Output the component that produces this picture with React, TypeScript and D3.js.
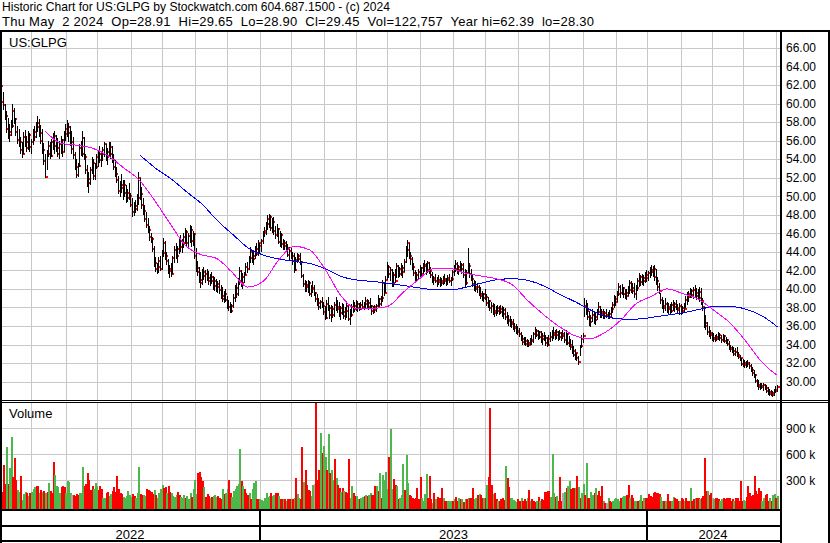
import React from 'react';
import * as d3 from 'd3';

// daily bars, May 2022 .. May 2 2024 (503 trading days)
const highs = [
  62.4,62.2,62.3,61.8,61.2,60.0,59.2,58.4,57.8,58.2, 60.0,59.5,58.4,57.6,57.2,56.4,55.8,56.9,57.1,56.5,
  57.0,56.8,56.2,57.2,57.6,58.0,58.6,58.3,57.7,57.2, 55.7,54.6,55.0,56.0,55.8,56.2,56.8,57.0,56.6,56.3,
  56.0,56.5,56.2,57.0,57.8,58.2,57.9,57.6,57.0,56.4, 54.8,54.0,53.6,55.6,56.0,57.0,56.4,54.5,53.4,52.6,
  53.2,54.2,54.0,53.6,54.6,55.0,55.4,54.8,55.3,55.9, 55.6,55.2,55.8,55.9,55.4,54.6,53.9,53.2,52.2,51.6,
  52.4,51.8,51.7,51.2,50.8,51.4,50.4,49.8,49.4,49.6, 50.2,52.6,52.0,51.0,49.8,49.0,48.3,47.6,46.8,46.0,
  45.6,44.6,43.4,42.8,43.4,43.6,44.2,45.5,45.2,44.0, 43.2,42.6,42.8,43.6,44.6,45.0,44.6,45.6,45.8,45.4,
  46.0,46.6,46.4,46.0,46.9,46.8,46.2,46.0,44.4,43.0, 42.4,41.8,42.2,42.4,42.0,42.2,41.9,41.6,41.8,41.4,
  41.3,41.1,40.8,41.0,40.4,40.2,39.8,40.0,39.2,38.8, 38.6,38.4,39.4,40.4,40.6,41.2,42.4,42.0,41.7,41.8,
  42.8,42.9,43.6,44.5,44.2,44.0,44.6,45.0,45.3,45.0, 45.4,46.2,46.7,47.2,48.0,48.1,48.0,47.6,47.8,46.8,
  47.0,46.6,46.2,46.0,45.4,45.3,45.2,44.8,44.5,44.4, 44.0,43.9,43.4,43.9,43.8,43.9,43.0,41.6,41.0,40.8,
  41.0,40.8,40.4,40.9,40.4,39.7,39.4,39.0,38.8,39.1, 38.6,38.2,38.8,39.1,38.3,38.3,38.2,38.6,39.1,38.8,
  38.6,38.2,38.5,38.4,38.0,38.5,38.2,37.8,38.4,38.8, 38.6,38.8,38.7,38.5,38.6,38.8,38.6,39.1,38.9,38.8,
  39.0,38.3,38.2,38.3,38.4,39.3,39.0,39.2,41.0,40.6, 41.4,42.9,42.6,42.4,42.2,41.8,42.2,42.8,42.6,42.4,
  42.8,42.6,43.2,44.6,45.3,45.0,44.0,43.4,42.8,42.0, 41.8,42.2,42.6,42.4,42.8,43.1,42.8,43.0,42.9,42.4,
  41.8,41.4,41.6,41.3,41.5,41.3,41.2,41.4,41.6,41.2, 41.5,41.6,41.3,42.0,42.6,43.1,42.9,42.6,43.0,42.8,
  42.8,42.2,42.0,44.4,42.8,42.2,41.5,41.0,40.8,40.6, 40.4,40.2,39.8,39.6,40.0,39.4,39.1,38.8,38.6,38.5,
  38.4,38.2,38.3,38.2,38.3,38.2,38.0,37.9,37.5,37.2, 37.1,36.8,36.7,36.3,36.2,36.0,35.8,35.4,35.0,34.8,
  34.8,34.6,34.5,34.7,35.0,35.4,35.9,35.7,35.6,35.5, 35.5,35.2,35.4,35.0,34.8,35.0,35.3,35.6,35.9,35.6,
  35.7,35.5,35.6,35.4,35.6,35.4,35.6,35.2,34.9,34.6, 34.5,33.8,33.5,33.1,32.8,34.0,35.0,35.2,39.0,38.8,
  38.5,37.6,37.2,37.8,37.6,37.4,37.8,38.6,38.2,37.8, 37.8,37.6,37.8,37.5,37.7,38.0,38.6,39.3,39.2,39.8,
  40.6,40.4,40.5,40.2,40.0,40.0,40.3,41.0,40.8,40.6, 40.6,40.4,41.2,41.7,41.5,41.6,41.5,41.8,42.0,41.9,
  42.4,42.6,42.5,42.6,42.2,41.3,40.6,39.6,39.1,38.8, 39.0,38.6,38.5,38.4,38.6,38.8,38.6,38.8,38.4,38.5,
  38.4,38.2,38.5,39.2,39.7,39.8,40.1,40.0,40.2,40.4, 40.1,40.0,40.2,40.1,39.0,38.0,37.2,36.4,36.0,35.6,
  35.4,35.2,35.0,35.1,35.4,35.2,35.0,35.1,35.0,34.8, 34.6,34.4,34.0,33.8,33.7,33.6,33.7,33.2,32.9,32.5,
  32.4,32.3,32.2,32.3,32.1,31.9,31.6,31.2,30.8,30.3, 30.2,29.8,29.9,29.8,29.7,29.6,29.4,29.2,29.1,29.0,
  29.2,29.5,29.65,
];

const lows = [
  61.2,60.8,61.0,59.6,59.3,58.2,56.8,56.2,55.8,56.5, 57.4,57.8,56.5,55.6,55.3,54.6,54.1,54.5,55.3,54.8,
  55.0,54.8,54.6,55.5,56.0,56.3,56.9,56.4,55.6,54.6, 53.4,52.0,52.8,54.2,54.0,54.2,55.0,54.6,54.8,54.2,
  54.0,54.6,54.2,54.8,56.0,56.4,55.8,55.4,54.6,54.0, 52.8,52.0,52.1,53.2,54.3,54.2,53.9,52.4,51.0,50.3,
  51.2,52.4,51.8,51.7,52.9,53.2,53.6,53.2,53.8,54.2, 53.8,53.4,54.2,54.0,53.6,52.8,52.1,51.4,50.2,49.9,
  50.4,49.6,49.9,49.3,49.4,49.6,48.8,47.8,47.9,48.2, 48.4,49.0,49.6,48.6,48.0,47.2,46.6,46.0,45.2,45.0,
  44.0,42.4,41.8,41.6,41.7,41.9,42.0,43.4,43.1,42.6, 41.6,41.2,41.3,41.6,42.8,43.2,42.8,43.8,44.0,43.9,
  44.4,44.8,44.6,44.4,45.0,44.5,44.6,43.2,41.8,41.4, 40.6,40.1,40.4,41.0,40.6,40.8,40.4,40.3,40.5,39.9,
  39.8,39.7,39.6,39.5,38.9,38.6,38.5,38.6,37.8,37.6, 37.4,37.4,37.9,38.6,39.0,39.2,40.4,40.2,40.0,40.6,
  41.5,41.7,42.0,42.8,42.8,42.6,43.2,43.5,43.6,43.8, 44.0,44.8,45.6,45.8,46.4,46.6,46.2,46.0,45.8,45.4,
  45.6,44.8,44.5,44.4,44.2,44.2,44.0,43.4,43.1,43.2, 42.6,41.7,41.9,42.8,42.9,42.6,41.2,40.2,39.7,39.7,
  39.6,39.2,39.1,39.6,39.2,38.6,38.2,37.7,37.8,37.9, 37.2,36.6,36.8,37.6,36.8,36.4,36.9,37.0,37.6,37.4,
  37.0,36.6,37.2,36.8,36.6,36.9,36.5,36.1,37.0,37.4, 37.5,37.6,37.5,37.6,37.7,37.8,37.7,37.9,37.8,37.7,
  37.9,37.2,37.3,37.4,37.5,38.0,38.0,38.2,38.6,39.2, 39.6,41.0,41.2,40.8,40.2,40.2,40.6,41.2,41.2,41.3,
  41.4,41.2,41.8,42.8,43.4,43.2,42.6,42.0,41.4,40.7, 40.8,41.0,41.2,41.3,41.5,41.8,41.5,41.7,41.6,41.2,
  40.6,40.4,40.6,40.2,40.4,40.2,40.3,40.4,40.5,40.3, 40.4,40.6,40.3,40.9,41.4,41.8,41.6,41.5,41.8,41.6,
  41.2,40.2,40.4,41.6,41.2,40.8,40.2,39.8,39.7,39.6, 39.2,38.9,38.7,38.6,38.8,38.2,37.9,37.6,37.4,37.2,
  37.0,37.1,37.3,37.2,37.3,37.0,36.8,36.6,36.2,36.0, 35.9,35.8,35.6,35.3,35.1,35.0,34.8,34.4,34.0,33.9,
  33.8,33.7,33.7,33.9,34.0,34.2,34.6,34.8,34.5,34.6, 34.2,34.0,34.4,33.8,33.7,33.8,34.3,34.4,34.6,34.5,
  34.6,34.4,34.5,34.4,34.6,34.2,34.0,33.9,33.7,33.4, 33.0,32.6,32.3,32.2,31.8,32.8,33.6,34.2,37.0,37.2,
  36.6,36.0,35.9,36.4,36.2,36.1,36.6,37.2,36.9,36.9, 36.8,36.7,36.9,36.7,36.8,37.0,37.4,37.9,38.2,38.6,
  39.2,39.0,39.3,39.0,38.9,38.8,39.2,39.5,39.6,39.4, 39.0,38.8,39.8,40.2,40.3,40.4,40.3,40.6,40.7,40.8,
  41.2,41.4,41.3,40.9,40.4,39.8,39.5,38.4,37.8,37.4, 37.6,37.4,37.2,37.3,37.4,37.6,37.5,37.7,37.3,37.2,
  37.2,37.3,37.4,37.9,38.3,38.6,39.0,39.0,38.9,39.1, 38.8,38.9,38.6,38.3,37.6,35.8,35.6,35.0,34.8,34.6,
  34.4,34.3,34.3,34.4,34.5,34.4,34.2,34.3,34.2,34.1, 33.8,33.4,33.2,33.1,32.8,32.8,32.6,32.4,32.2,31.7,
  31.6,31.5,31.5,31.6,31.4,31.0,30.6,30.4,29.8,29.4, 29.1,29.1,29.2,29.0,29.1,28.8,28.6,28.5,28.4,28.3,
  28.4,28.8,28.90,
];

const closes = [
  61.6,61.3,61.9,60.2,59.8,58.6,57.3,56.6,56.9,57.6, 59.2,58.3,56.9,56.1,55.9,55.0,54.6,56.4,55.8,55.2,
  56.6,55.3,55.8,56.9,56.4,57.5,57.9,56.8,56.0,55.0, 53.8,52.1,54.6,55.4,54.3,55.8,55.4,56.5,55.2,54.6,
  55.6,56.1,54.8,56.7,57.2,56.8,57.5,55.9,55.1,54.4, 53.2,52.3,53.3,55.2,54.6,56.3,54.2,52.8,51.4,51.9,
  52.8,53.6,52.2,53.2,54.2,54.5,53.9,54.6,55.0,55.6, 54.2,54.8,55.3,54.5,53.9,53.1,52.4,51.8,50.6,51.2,
  50.9,51.2,50.3,49.8,50.4,50.0,49.1,48.3,48.9,48.6, 49.8,52.0,50.2,49.0,48.4,47.5,46.9,46.4,45.6,45.4,
  44.3,42.8,42.2,42.4,43.0,42.2,43.9,45.0,43.6,43.0, 41.9,42.1,41.6,43.3,44.2,43.6,44.3,45.2,44.5,45.0,
  45.6,46.1,45.0,45.7,46.4,45.2,45.9,43.6,42.3,41.8, 41.0,40.6,41.8,41.4,41.6,41.2,40.9,41.3,40.8,40.3,
  40.9,40.2,40.5,39.9,39.2,38.9,39.4,38.8,38.1,38.0, 37.6,38.2,39.0,40.1,39.4,40.8,41.9,40.6,41.3,41.5,
  42.4,42.2,43.3,44.0,43.2,43.6,44.3,43.8,45.0,44.6, 45.2,46.0,46.3,47.0,47.5,47.8,46.6,47.2,46.2,45.8,
  46.5,45.1,45.8,44.8,44.6,44.9,44.4,43.7,44.1,43.5, 43.0,42.0,43.1,43.5,43.2,42.9,41.4,40.5,40.2,40.4,
  40.6,39.5,40.1,40.0,39.6,38.9,38.5,38.0,38.6,38.2, 37.5,36.9,38.4,37.9,37.2,37.8,37.2,38.3,38.0,37.8,
  37.4,37.9,37.5,37.1,37.6,38.2,36.8,37.2,38.0,37.8, 38.2,37.9,38.4,37.8,38.3,38.1,38.4,38.7,38.0,38.5,
  38.2,37.6,38.0,37.7,38.2,38.9,38.4,39.0,40.6,39.6, 41.0,42.4,41.6,42.0,40.6,41.5,40.9,42.5,41.6,42.1,
  42.3,41.8,42.9,44.2,44.9,43.6,43.2,42.4,41.7,41.0, 41.5,41.8,42.3,41.6,42.5,42.6,42.0,42.8,41.9,41.5,
  41.0,41.2,40.9,41.0,40.7,40.9,40.6,41.1,40.8,41.0, 41.2,40.9,41.1,41.8,42.2,42.7,42.0,42.4,42.1,42.6,
  41.5,40.6,41.7,42.5,41.6,41.1,40.5,40.2,40.0,40.2, 39.5,39.2,39.0,39.4,39.1,38.5,38.7,37.9,38.2,37.6,
  37.4,37.9,37.6,37.8,37.5,37.3,37.7,37.0,36.6,36.5, 36.4,36.2,35.9,35.8,35.4,35.5,35.1,34.6,34.3,34.4,
  34.1,34.2,33.9,34.5,34.4,35.1,35.5,35.0,35.3,34.8, 34.6,34.9,34.7,34.2,34.0,34.6,34.8,35.2,35.0,35.4,
  35.0,35.2,34.8,35.1,34.9,34.5,35.1,34.2,34.0,33.7, 33.3,32.9,33.1,32.5,32.1,33.8,34.6,34.9,38.2,37.6,
  37.0,36.4,36.9,37.2,36.6,37.0,37.5,38.0,37.3,37.5, 37.1,37.4,37.2,37.0,37.3,37.8,38.3,38.9,38.6,39.5,
  40.2,39.6,40.1,39.4,39.6,39.2,39.9,40.6,40.1,39.8, 39.5,40.1,40.8,41.3,40.7,41.2,40.9,41.5,41.2,41.7,
  42.0,41.8,42.2,41.3,40.8,40.2,39.8,38.8,38.2,37.9, 38.4,37.8,38.1,37.6,38.3,38.0,38.4,37.9,37.7,38.2,
  37.6,37.9,37.8,38.8,39.4,39.1,39.8,39.3,39.9,39.6, 39.2,39.7,39.0,38.7,38.0,36.3,36.0,35.4,35.2,35.0,
  34.7,34.6,34.8,34.6,35.0,34.7,34.5,34.9,34.4,34.5, 34.1,33.6,33.5,33.3,33.0,33.2,32.9,32.7,32.5,31.9,
  32.0,31.8,32.0,31.9,31.7,31.3,30.9,30.7,30.1,29.6, 29.4,29.5,29.4,29.6,29.3,29.0,28.9,28.7,28.8,28.6,
  29.0,29.1,29.45,
];

// volume in thousands; negative = down day (red), positive = up day (green)
const volumes = [
  -220,180,-170,-168,-476,-257,685,-257,446,803, -338,-553,-303,188,170,-350,73,140,168,-157,
  120,-150,160,200,220,-230,-230,150,-190,170, -180,150,-160,270,-180,-150,-515,365,230,220,
  150,-220,-230,-220,150,296,280,150,135,-125, -120,-140,-130,150,150,457,-240,-260,-389,-303,
  -190,-240,200,268,240,-190,-240,-200,100,100, -150,-160,120,140,-180,-227,-170,-350,-200,-150,
  -140,110,100,120,181,130,110,-140,-120,100, 150,457,-140,-130,130,120,-200,-190,-180,-170,
  -140,190,-130,100,150,200,250,-210,-220,150, -240,-160,150,120,110,130,-160,-130,110,100,
  130,-100,120,90,150,-110,200,300,140,-380, -400,-340,-290,220,-110,-140,-120,100,-110,120,
  130,110,-120,-100,-80,200,-140,150,200,-303, -150,110,180,200,240,262,656,-290,240,-200,
  -150,-130,150,-84,200,268,288,-88,-88,90, 70,60,100,154,110,120,-154,120,130,-154,
  -154,120,-90,-88,88,-88,60,-84,-90,84, -90,100,-327,142,100,-90,-680,280,-423,-242,
  -192,-180,123,242,258,-1192,-307,-423,846,-615, 692,565,-423,835,-384,423,300,-546,327,-242,
  -211,160,-211,173,-160,-150,-550,100,230,-150, -120,120,80,-80,100,110,-120,130,-120,130,
  150,-130,-130,-230,240,-180,384,-100,357,300, 400,200,-565,892,200,-315,-250,230,-90,100,
  130,488,-188,588,268,-134,-115,-96,-84,-100, -207,-90,-338,96,65,142,373,-96,-350,-88,
  40,-150,88,-107,-96,-100,-211,100,-61,-61, 61,61,61,-61,84,-107,-61,100,-88,84,
  -45,88,-84,100,-100,-100,-211,88,96,-130, 142,-134,-100,96,-100,242,-338,-1134,-242,142,
  -150,-84,65,-65,-88,-96,-73,461,-327,-219, 100,96,73,65,50,-84,-65,100,-65,-84,
  -65,100,-186,57,-84,-57,-46,65,-107,65, -84,-77,-165,-169,-173,-180,110,604,150,-107,
  115,-65,-342,-57,150,161,-207,240,288,-203, -211,-211,211,-350,219,-96,150,261,-130,500,
  -96,-96,165,134,-150,211,-134,-180,-120,-234, 57,-40,40,96,-57,-46,65,84,100,84,
  57,-96,104,119,119,-126,-242,96,-130,-96, 57,57,-57,77,134,-65,96,-96,-96,-142,
  -123,-107,-154,-161,-150,-150,-142,107,65,-57, 65,-142,-65,-57,57,107,-96,-88,-57,65,
  -96,-88,65,-96,-57,-57,211,-57,-88,96, -100,-96,80,-96,-120,-553,-180,173,-134,-154,
  96,84,-96,-96,-84,57,84,-96,-84,-96, -96,-96,-65,-88,65,-100,-100,-57,-288,-65,
  73,65,-110,-238,-150,-120,-130,-346,-180,-138, -211,-173,65,96,-130,-138,-57,96,-57,130,
  142,-100,123,
];
// unchanged-close days (grey volume)
const flatDays = [48, 204, 364, 392, 460];

// moving averages (day index, value)
const fastMaDays = [31,41,51,61,71,81,91,101,111,121,131,141,151,161,171,181,191,201,211,221,231,241,251,261,271,281,291,301,311,321,331,341,351,361,371,381,391,401,411,421,431,441,451,461,471,481,491,501,502];
const fastMa = [57.0,55.7,55.5,55.2,54.4,53.1,51.8,49.6,47.1,44.7,43.7,43.3,41.8,40.2,40.8,43.1,44.6,44.2,42.1,39.3,37.9,37.9,38.1,39.6,41.0,42.2,42.2,41.7,41.4,41.1,40.5,38.8,37.3,36.0,35.0,34.6,35.3,36.6,38.4,39.2,40.0,39.5,38.9,37.7,36.4,34.5,32.3,30.8,30.7];
const slowMaDays = [92,102,112,122,132,142,152,162,172,182,192,202,212,222,232,242,252,262,272,282,292,302,312,322,332,342,352,362,372,382,392,402,412,422,432,442,452,462,472,482,492,502];
const slowMa = [54.4,53.0,51.85,50.45,49.1,47.3,45.8,44.35,43.6,43.2,42.95,42.7,42.1,41.3,40.95,40.8,40.6,40.35,40.1,39.9,39.9,40.2,40.65,41.0,41.1,40.9,40.3,39.4,38.6,37.7,37.0,36.75,36.75,36.95,37.2,37.45,37.8,38.1,38.1,37.8,37.1,35.9];

// first trading day of each month, as day index
const monthStarts = [22,44,64,86,106,127,148,169,189,210,231,251,272,293,314,335,355,377,398,418,440,460,480,501];
const yearLabels = ['2022', '2023', '2024'];
const yearStarts = [0, 169, 418];

const priceTicks = [30,32,34,36,38,40,42,44,46,48,50,52,54,56,58,60,62,64,66];
const volumeTicks = [300, 600, 900];

const headerLine1 = 'Historic Chart for US:GLPG by Stockwatch.com 604.687.1500 - (c) 2024';
const headerLine2 = 'Thu May  2 2024  Op=28.91  Hi=29.65  Lo=28.90  Cl=29.45  Vol=122,757  Year hi=62.39  lo=28.30';

const FONT = "'Liberation Sans', Arial, Helvetica, sans-serif";
const GRID = '#c8c8c8';

export default function App() {
  const nDays = closes.length;
  const plotRight = 780;
  const xs = d3.scaleLinear().domain([0, nDays]).range([-2.7, 779]);
  const py = d3.scaleLinear().domain([30, 66]).range([381.6, 47.9]);
  const vy = d3.scaleLinear().domain([0, 900]).range([506.3, 428.3]);

  const fastLine = d3.line<number>()
    .x((_, k) => xs(fastMaDays[k]))
    .y(d => py(d))
    .curve(d3.curveMonotoneX);
  const slowLine = d3.line<number>()
    .x((_, k) => xs(slowMaDays[k]))
    .y(d => py(d))
    .curve(d3.curveMonotoneX);

  const yearEnds = [...yearStarts.slice(1), nDays];

  return (
    <div style={{ position: 'fixed', left: 0, top: 0, width: 830, height: 543, background: '#fff' }}>
      <svg width={830} height={543} style={{ display: 'block' }} fontFamily={FONT}>
        <rect x={0} y={0} width={830} height={543} fill="#fff" />

        {/* header */}
        <text x={2} y={11} fontSize={13} fill="#000" textLength={388} lengthAdjust="spacingAndGlyphs">{headerLine1}</text>
        <text x={2} y={26} fontSize={13} fill="#000" style={{ whiteSpace: 'pre' }} textLength={592} lengthAdjust="spacing">{headerLine2}</text>

        {/* grid */}
        <g shapeRendering="crispEdges" stroke={GRID} strokeWidth={1}>
          {priceTicks.map(t => {
            const y = Math.round(py(t)) + 0.5;
            return <line key={'p' + t} x1={0} x2={plotRight} y1={y} y2={y} />;
          })}
          {volumeTicks.map(t => {
            const y = Math.round(vy(t)) + 0.5;
            return <line key={'v' + t} x1={0} x2={plotRight} y1={y} y2={y} />;
          })}
          {monthStarts.map(m => {
            const x = Math.round(xs(m)) + 0.5;
            return (
              <g key={'m' + m}>
                <line x1={x} x2={x} y1={32} y2={400} />
                <line x1={x} x2={x} y1={403} y2={509} />
              </g>
            );
          })}
        </g>

        {/* volume bars */}
        <g shapeRendering="crispEdges">
          {volumes.map((v, i) => {
            const x = Math.floor(xs(i));
            const top = Math.max(403, Math.round(vy(Math.abs(v))));
            const fill = flatDays.includes(i) ? '#a8a8a8' : v < 0 ? '#ff0000' : '#4cb84c';
            return <rect key={i} x={x} y={top} width={2} height={509 - top} fill={fill} />;
          })}
        </g>

        {/* price bars: high-low in black, close mark in red */}
        <g shapeRendering="crispEdges">
          {closes.map((c, i) => {
            const x = Math.floor(xs(i));
            const yh = Math.round(py(highs[i]));
            const yl = Math.round(py(lows[i]));
            const yc = Math.round(py(c));
            return (
              <g key={i}>
                <rect x={x} y={yh} width={1} height={Math.max(1, yl - yh)} fill="#000" />
                <rect x={x + 1} y={yc - 1} width={2} height={2} fill="#ff0000" />
              </g>
            );
          })}
        </g>

        {/* moving averages */}
        <path d={slowLine(slowMa) ?? ''} fill="none" stroke="#0000ff" strokeWidth={1} shapeRendering="crispEdges" />
        <path d={fastLine(fastMa) ?? ''} fill="none" stroke="#ff00ff" strokeWidth={1} shapeRendering="crispEdges" />

        {/* labels */}
        <text x={9} y={46.5} fontSize={13} fill="#000">US:GLPG</text>
        <text x={9} y={418} fontSize={13} fill="#000">Volume</text>

        {priceTicks.map(t => (
          <text key={'pl' + t} x={786} y={py(t) + 4.3} fontSize={12} fill="#000">{t.toFixed(2)}</text>
        ))}
        {volumeTicks.map(t => (
          <text key={'vl' + t} x={786} y={vy(t) + 4.3} fontSize={12} fill="#000">{`${t} k`}</text>
        ))}

        {/* frame */}
        <g shapeRendering="crispEdges" fill="#000">
          <rect x={0} y={30} width={830} height={2} />
          <rect x={0} y={30} width={2} height={513} />
          <rect x={780} y={30} width={2} height={513} />
          <rect x={828} y={30} width={2} height={513} />
          <rect x={0} y={400} width={830} height={1} />
          <rect x={0} y={402} width={830} height={1} />
          <rect x={0} y={509} width={782} height={2} />
          <rect x={0} y={525} width={782} height={2} />
          <rect x={0} y={540} width={782} height={2} />
          {yearStarts.slice(1).map(s => (
            <rect key={'ys' + s} x={Math.floor(xs(s))} y={511} width={1.5} height={29} />
          ))}
        </g>

        {yearLabels.map((lab, k) => (
          <text key={lab} x={(Math.max(0, xs(yearStarts[k])) + xs(yearEnds[k])) / 2} y={538.5}
            fontSize={13} textAnchor="middle" fill="#000">{lab}</text>
        ))}
      </svg>
    </div>
  );
}
